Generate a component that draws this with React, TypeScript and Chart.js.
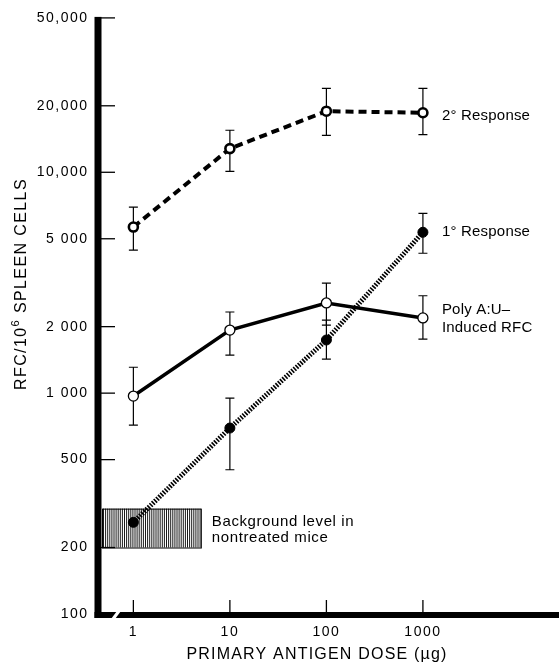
import React, { useEffect, useRef } from 'react';
import { Chart, registerables } from 'chart.js';

Chart.register(...registerables);

// ---------- data ----------
const doses = [1, 10, 100, 1000];
const xTickLabels = ['1', '10', '100', '1000'];

const yTickValues = [100, 200, 500, 1000, 2000, 5000, 10000, 20000, 50000];
const yTickLabels = ['100', '200', '500', '1 000', '2 000', '5 000', '10,000', '20,000', '50,000'];

const secondary = [5650, 12800, 18900, 18600];
const secondaryHi = [6950, 15500, 24000, 24000];
const secondaryLo = [4440, 10100, 14700, 14800];

const primary = [260, 695, 1740, 5350];
const primaryHi = [null, 950, 2140, 6520];
const primaryLo = [null, 450, 1425, 4300];

const poly = [970, 1930, 2560, 2190];
const polyHi = [1310, 2330, 3150, 2760];
const polyLo = [716, 1485, 2030, 1755];

const backgroundLow = 200;
const backgroundHigh = 300;
const backgroundDoseMax = 5;

const X_MIN = 0.43;
const X_MAX = 21700;
const Y_MIN = 100;
const Y_MAX = 50000;

const FONT = "'Liberation Sans', Arial, sans-serif";

const errorSets = [
  { hi: secondaryHi, lo: secondaryLo },
  { hi: primaryHi, lo: primaryLo },
  { hi: polyHi, lo: polyLo },
];

function drawText(ctx: CanvasRenderingContext2D, text: string, x: number, y: number, size: number, spacing: number, align: CanvasTextAlign = 'left') {
  ctx.save();
  (ctx as any).letterSpacing = spacing + 'px';
  ctx.font = `${size}px ${FONT}`;
  ctx.fillStyle = '#000';
  ctx.textAlign = align;
  ctx.textBaseline = 'middle';
  ctx.fillText(text, x, y);
  ctx.restore();
}

const decorPlugin = {
  id: 'decor',
  beforeDraw(chart: any) {
    (chart.ctx as any).letterSpacing = '1.5px';
  },
  beforeDatasetsDraw(chart: any) {
    const ctx: CanvasRenderingContext2D = chart.ctx;
    const xs = chart.scales.x;
    const ys = chart.scales.y;
    const area = chart.chartArea;

    // background box (hatched)
    const bx0 = area.left + 4;
    const bx1 = xs.getPixelForValue(backgroundDoseMax);
    const by0 = ys.getPixelForValue(backgroundHigh);
    const by1 = ys.getPixelForValue(backgroundLow);
    ctx.save();
    ctx.strokeStyle = '#000';
    ctx.lineWidth = 1;
    ctx.strokeRect(bx0 + 0.5, by0 + 0.5, bx1 - bx0, by1 - by0);
    ctx.lineWidth = 0.9;
    for (let x = bx0 + 1.5; x < bx1; x += 2.1) {
      ctx.beginPath();
      ctx.moveTo(x, by0);
      ctx.lineTo(x, by1);
      ctx.stroke();
    }
    ctx.restore();

    // error bars
    ctx.save();
    ctx.strokeStyle = '#000';
    ctx.lineWidth = 1.2;
    errorSets.forEach((set) => {
      doses.forEach((d, i) => {
        const hi = set.hi[i];
        const lo = set.lo[i];
        if (hi == null || lo == null) return;
        const x = xs.getPixelForValue(d);
        const y1 = ys.getPixelForValue(hi);
        const y2 = ys.getPixelForValue(lo);
        ctx.beginPath();
        ctx.moveTo(x, y1);
        ctx.lineTo(x, y2);
        ctx.moveTo(x - 4.5, y1);
        ctx.lineTo(x + 4.5, y1);
        ctx.moveTo(x - 4.5, y2);
        ctx.lineTo(x + 4.5, y2);
        ctx.stroke();
      });
    });
    ctx.restore();
  },
  afterDraw(chart: any) {
    const ctx: CanvasRenderingContext2D = chart.ctx;
    const xs = chart.scales.x;
    const ys = chart.scales.y;
    const area = chart.chartArea;
    const L = area.left;
    const B = area.bottom;

    ctx.save();
    ctx.fillStyle = '#000';
    // left thick axis
    ctx.fillRect(L - 3.5, area.top - 1, 7, B - area.top + 5);
    // bottom thick axis
    ctx.fillRect(L - 3.5, B - 2, chart.width - (L - 3.5), 6);
    // axis break
    ctx.fillStyle = '#fff';
    ctx.beginPath();
    ctx.moveTo(L + 13, B + 5);
    ctx.lineTo(L + 17, B + 5);
    ctx.lineTo(L + 23, B - 3);
    ctx.lineTo(L + 19, B - 3);
    ctx.closePath();
    ctx.fill();

    // inward ticks
    ctx.strokeStyle = '#000';
    ctx.lineWidth = 1.3;
    yTickValues.forEach((v) => {
      if (v === Y_MIN) return;
      const y = ys.getPixelForValue(v);
      ctx.beginPath();
      ctx.moveTo(L + 3, y);
      ctx.lineTo(L + 17, y);
      ctx.stroke();
    });
    doses.forEach((d) => {
      const x = xs.getPixelForValue(d);
      ctx.beginPath();
      ctx.moveTo(x, B - 1);
      ctx.lineTo(x, B - 14);
      ctx.stroke();
    });
    ctx.restore();

    // y title with superscript
    ctx.save();
    ctx.translate(22, 284);
    ctx.rotate(-Math.PI / 2);
    (ctx as any).letterSpacing = '1.4px';
    ctx.fillStyle = '#000';
    ctx.textBaseline = 'middle';
    ctx.textAlign = 'left';
    const p1 = 'RFC/10';
    const sup = '6';
    const p2 = ' SPLEEN CELLS';
    ctx.font = `16px ${FONT}`;
    const w1 = ctx.measureText(p1).width;
    const w3 = ctx.measureText(p2).width;
    ctx.font = `11px ${FONT}`;
    const w2 = ctx.measureText(sup).width;
    let cx = -(w1 + w2 + w3) / 2;
    ctx.font = `16px ${FONT}`;
    ctx.fillText(p1, cx, 0);
    cx += w1;
    ctx.font = `11px ${FONT}`;
    ctx.fillText(sup, cx, -6);
    cx += w2;
    ctx.font = `16px ${FONT}`;
    ctx.fillText(p2, cx, 0);
    ctx.restore();

    // x title
    drawText(ctx, 'PRIMARY ANTIGEN DOSE (\u00b5g)', 317, 655, 16, 1.2, 'center');

    // series labels
    const lx = xs.getPixelForValue(doses[3]) + 19;
    drawText(ctx, '2\u00b0 Response', lx, ys.getPixelForValue(secondary[3]) + 3, 15, 0.2);
    drawText(ctx, '1\u00b0 Response', lx, ys.getPixelForValue(primary[3]), 15, 0.2);
    const py = ys.getPixelForValue(poly[3]);
    drawText(ctx, 'Poly A:U\u2013', lx, py - 8, 15, 0.2);
    drawText(ctx, 'Induced RFC', lx, py + 10, 15, 0.2);

    // background label
    const bgx = xs.getPixelForValue(backgroundDoseMax) + 11;
    const bgy = ys.getPixelForValue(Math.sqrt(backgroundLow * backgroundHigh));
    drawText(ctx, 'Background level in', bgx, bgy - 6, 15, 0.6);
    drawText(ctx, 'nontreated mice', bgx, bgy + 10, 15, 0.6);
  },
};

export default function App() {
  const ref = useRef<HTMLCanvasElement | null>(null);

  useEffect(() => {
    if (!ref.current) return;
    const toPts = (arr: number[]) => doses.map((d, i) => ({ x: d, y: arr[i] }));
    const chart = new Chart(ref.current, {
      type: 'line',
      data: {
        datasets: [
          {
            label: 'Poly A:U-Induced RFC',
            data: toPts(poly),
            borderColor: '#000',
            borderWidth: 3.5,
            pointRadius: 5,
            pointBorderWidth: 1.3,
            pointBackgroundColor: '#fff',
            pointBorderColor: '#000',
            tension: 0,
          },
          {
            label: '2° Response',
            data: toPts(secondary),
            borderColor: '#000',
            borderWidth: 4,
            borderDash: [8, 5],
            pointRadius: 4.5,
            pointBorderWidth: 2.6,
            pointBackgroundColor: '#fff',
            pointBorderColor: '#000',
            tension: 0,
          },
          {
            label: '1° Response',
            data: toPts(primary),
            borderColor: '#000',
            borderWidth: 5,
            borderDash: [1.6, 1.4],
            pointRadius: 5,
            pointBorderWidth: 1,
            pointBackgroundColor: '#000',
            pointBorderColor: '#000',
            tension: 0,
          },
        ],
      },
      options: {
        responsive: false,
        maintainAspectRatio: false,
        devicePixelRatio: 1,
        animation: false,
        layout: { padding: { top: 17, right: 0, bottom: 0, left: 0 } },
        plugins: {
          legend: { display: false },
          tooltip: { enabled: false },
        },
        scales: {
          x: {
            type: 'logarithmic',
            min: X_MIN,
            max: X_MAX,
            afterBuildTicks: (s: any) => {
              s.ticks = doses.map((v) => ({ value: v }));
            },
            afterFit: (s: any) => {
              s.height = 52;
            },
            grid: { display: false, drawTicks: false },
            border: { display: false },
            ticks: {
              autoSkip: false,
              maxRotation: 0,
              padding: 10,
              color: '#000',
              font: { family: FONT, size: 14 },
              callback: (_v: any, i: number) => xTickLabels[i],
            },
          },
          y: {
            type: 'logarithmic',
            min: Y_MIN,
            max: Y_MAX,
            afterBuildTicks: (s: any) => {
              s.ticks = yTickValues.map((v) => ({ value: v }));
            },
            afterFit: (s: any) => {
              s.width = 98;
            },
            grid: { display: false, drawTicks: false },
            border: { display: false },
            ticks: {
              autoSkip: false,
              padding: 9.5,
              color: '#000',
              font: { family: FONT, size: 14 },
              callback: (_v: any, i: number) => yTickLabels[i],
            },
          },
        },
      },
      plugins: [decorPlugin],
    });
    return () => chart.destroy();
  }, []);

  return (
    <div style={{ position: 'fixed', left: 0, top: 0, width: 559, height: 666, background: '#fff' }}>
      <canvas ref={ref} width={559} height={666} style={{ display: 'block' }} />
    </div>
  );
}
